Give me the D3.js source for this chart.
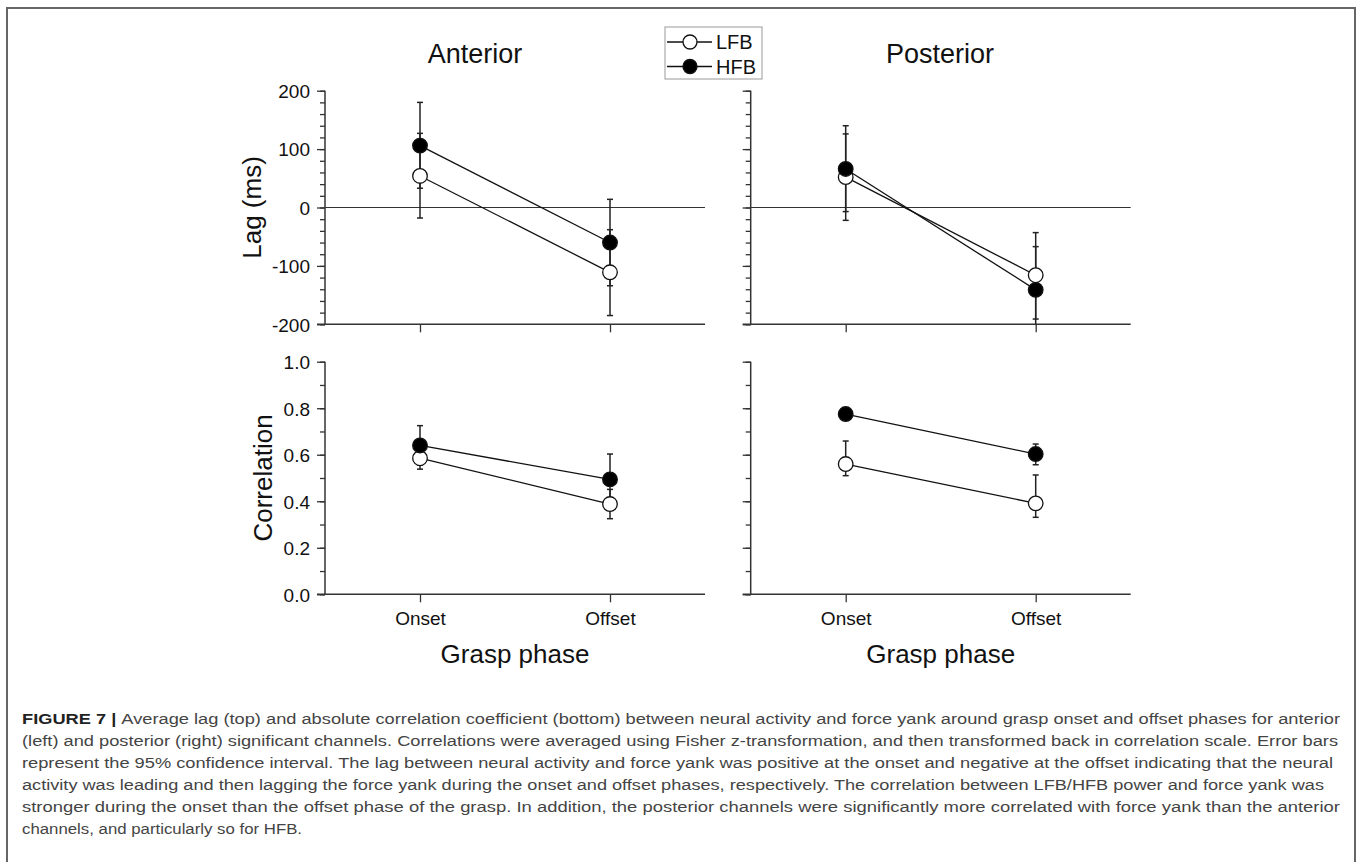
<!DOCTYPE html>
<html lang="en">
<head>
<meta charset="utf-8">
<title>Figure 7: lag and correlation around grasp phases</title>
<script src="https://cdn.jsdelivr.net/npm/d3@7"></script>
<style>
  body { margin: 0; background: #fff; }
  text { font-family: "Liberation Sans", Arial, sans-serif; fill: #111; }
  .caption { font-family: "Liberation Sans Narrow", "Liberation Sans", Arial, sans-serif; fill: #444; }
</style>
</head>
<body>
<script>
// ---------- data
var phases = ["Onset", "Offset"];
var bands = ["LFB", "HFB"];

// lag (ms), mean + 95% CI
var lagAntLFB = [54, -111],   lagAntLFBLo = [-18, -185],  lagAntLFBHi = [127, -38];
var lagAntHFB = [106, -60],   lagAntHFBLo = [33, -134],   lagAntHFBHi = [180, 14];
var lagPostLFB = [52, -116],  lagPostLFBLo = [-22, -191], lagPostLFBHi = [126, -43];
var lagPostHFB = [66, -141],  lagPostHFBLo = [-7, -215],  lagPostHFBHi = [140, -67];

// correlation, mean + 95% CI
var corAntLFB = [0.585, 0.388],  corAntLFBLo = [0.538, 0.325],  corAntLFBHi = [0.632, 0.451];
var corAntHFB = [0.640, 0.494],  corAntHFBLo = [0.555, 0.385],  corAntHFBHi = [0.725, 0.603];
var corPostLFB = [0.560, 0.391], corPostLFBLo = [0.510, 0.331], corPostLFBHi = [0.659, 0.513];
var corPostHFB = [0.775, 0.603], corPostHFBLo = [0.762, 0.557], corPostHFBHi = [0.788, 0.646];

var lagTicks = [-200, -100, 0, 100, 200];
var corTicks = [0, 0.2, 0.4, 0.6, 0.8, 1.0];

var captionLines = [
  "Average lag (top) and absolute correlation coefficient (bottom) between neural activity and force yank around grasp onset and offset phases for anterior",
  "(left) and posterior (right) significant channels. Correlations were averaged using Fisher z-transformation, and then transformed back in correlation scale. Error bars",
  "represent the 95% confidence interval. The lag between neural activity and force yank was positive at the onset and negative at the offset indicating that the neural",
  "activity was leading and then lagging the force yank during the onset and offset phases, respectively. The correlation between LFB/HFB power and force yank was",
  "stronger during the onset than the offset phase of the grasp. In addition, the posterior channels were significantly more correlated with force yank than the anterior",
  "channels, and particularly so for HFB."
];

// ---------- layout
var W = 1358, H = 862;
var pw = 380;            // panel width
var topY = 90.7, topH = 233.6;
var botY = 361.7, botH = 232.6;
var leftX = 325, rightX = 750.7;

var svg = d3.select("body").append("svg")
  .attr("width", W)
  .attr("height", H);

// outer frame
svg.append("path")
  .attr("d", "M7," + H + "V8H1355V" + H)
  .attr("fill", "none")
  .attr("stroke", "#666")
  .attr("stroke-width", 2);

function pack(m, lo, hi) {
  return phases.map(function(p, i) { return { phase: p, v: m[i], lo: lo[i], hi: hi[i] }; });
}

var panels = [
  { x: leftX,  y: topY, h: topH, domain: [-200, 200], major: lagTicks, minorStep: 20, zero: true,
    yLabels: true, xLabels: false, fmt: function(d) { return String(d); },
    series: [pack(lagAntLFB, lagAntLFBLo, lagAntLFBHi), pack(lagAntHFB, lagAntHFBLo, lagAntHFBHi)] },
  { x: rightX, y: topY, h: topH, domain: [-200, 200], major: lagTicks, minorStep: 20, zero: true,
    yLabels: false, xLabels: false, fmt: function(d) { return String(d); },
    series: [pack(lagPostLFB, lagPostLFBLo, lagPostLFBHi), pack(lagPostHFB, lagPostHFBLo, lagPostHFBHi)] },
  { x: leftX,  y: botY, h: botH, domain: [0, 1], major: corTicks, minorStep: 0.1, zero: false,
    yLabels: true, xLabels: true, fmt: function(d) { return d.toFixed(1); },
    series: [pack(corAntLFB, corAntLFBLo, corAntLFBHi), pack(corAntHFB, corAntHFBLo, corAntHFBHi)] },
  { x: rightX, y: botY, h: botH, domain: [0, 1], major: corTicks, minorStep: 0.1, zero: false,
    yLabels: false, xLabels: true, fmt: function(d) { return d.toFixed(1); },
    series: [pack(corPostLFB, corPostLFBLo, corPostLFBHi), pack(corPostHFB, corPostHFBLo, corPostHFBHi)] }
];

var axisColor = "#333";

panels.forEach(function(p) {
  var g = svg.append("g").attr("transform", "translate(" + p.x + "," + p.y + ")");

  var xScale = d3.scalePoint().domain(phases).range([0, pw]).padding(0.5);
  var yScale = d3.scaleLinear().domain(p.domain).range([p.h, 0]).clamp(true);

  // minor ticks
  var minors = d3.range(p.domain[0], p.domain[1] + p.minorStep / 2, p.minorStep)
    .map(function(d) { return +d.toFixed(3); });
  g.append("g")
    .call(d3.axisLeft(yScale).tickValues(minors).tickSize(5).tickSizeOuter(0).tickFormat(""))
    .call(function(a) { a.select(".domain").remove(); });

  // major ticks + labels
  var yAxis = g.append("g")
    .call(d3.axisLeft(yScale).tickValues(p.major).tickSize(8).tickSizeOuter(0).tickPadding(7)
      .tickFormat(p.yLabels ? p.fmt : ""))
    .call(function(a) { a.select(".domain").remove(); });
  yAxis.selectAll("text").style("font-size", "19px").attr("dy", "0.36em")
    .style("font-family", "'Liberation Sans', Arial, sans-serif").attr("fill", "#111");

  // x ticks
  var xAxis = g.append("g")
    .attr("transform", "translate(0," + p.h + ")")
    .call(d3.axisBottom(xScale).tickSize(8).tickSizeOuter(0).tickPadding(9)
      .tickFormat(p.xLabels ? function(d) { return d; } : ""))
    .call(function(a) { a.select(".domain").remove(); });
  xAxis.selectAll("text").style("font-size", "19px")
    .style("font-family", "'Liberation Sans', Arial, sans-serif").attr("fill", "#111");

  svg.selectAll(".tick line").attr("stroke", axisColor).attr("stroke-width", 1.3);

  // axis lines
  g.append("line").attr("x1", 0).attr("x2", 0).attr("y1", 0).attr("y2", p.h)
    .attr("stroke", axisColor).attr("stroke-width", 1.5);
  g.append("line").attr("x1", -8).attr("x2", pw).attr("y1", p.h).attr("y2", p.h)
    .attr("stroke", axisColor).attr("stroke-width", 1.5);

  if (p.zero) {
    g.append("line").attr("x1", 0).attr("x2", pw)
      .attr("y1", yScale(0)).attr("y2", yScale(0))
      .attr("stroke", axisColor).attr("stroke-width", 1.2);
  }

  var line = d3.line()
    .x(function(d) { return xScale(d.phase); })
    .y(function(d) { return yScale(d.v); });

  // connecting lines
  g.selectAll(".conn").data(p.series).enter().append("path")
    .attr("class", "conn")
    .attr("d", line)
    .attr("fill", "none")
    .attr("stroke", "#111")
    .attr("stroke-width", 1.3);

  // error bars
  p.series.forEach(function(s) {
    var eb = g.selectAll(null).data(s).enter().append("g");
    eb.append("line")
      .attr("x1", function(d) { return xScale(d.phase); })
      .attr("x2", function(d) { return xScale(d.phase); })
      .attr("y1", function(d) { return yScale(d.lo); })
      .attr("y2", function(d) { return yScale(d.hi); })
      .attr("stroke", "#222").attr("stroke-width", 1.5);
    ["lo", "hi"].forEach(function(k) {
      eb.filter(function(d) { return d[k] >= p.domain[0] && d[k] <= p.domain[1]; })
        .append("line")
        .attr("x1", function(d) { return xScale(d.phase) - 3; })
        .attr("x2", function(d) { return xScale(d.phase) + 3; })
        .attr("y1", function(d) { return yScale(d[k]); })
        .attr("y2", function(d) { return yScale(d[k]); })
        .attr("stroke", "#222").attr("stroke-width", 1.5);
    });
  });

  // markers: LFB open, HFB filled on top
  p.series.forEach(function(s, i) {
    g.selectAll(null).data(s).enter().append("circle")
      .attr("cx", function(d) { return xScale(d.phase); })
      .attr("cy", function(d) { return yScale(d.v); })
      .attr("r", 7.3)
      .attr("fill", i === 0 ? "#fff" : "#000")
      .attr("stroke", "#111")
      .attr("stroke-width", 1.3);
  });
});

// ---------- text labels
svg.append("text").attr("x", 475).attr("y", 63).attr("text-anchor", "middle")
  .style("font-size", "27px").text("Anterior");
svg.append("text").attr("x", 940).attr("y", 63).attr("text-anchor", "middle")
  .style("font-size", "27px").text("Posterior");

svg.append("text")
  .attr("transform", "translate(261," + (topY + topH / 2) + ") rotate(-90)")
  .attr("text-anchor", "middle").style("font-size", "26px").text("Lag (ms)");
svg.append("text")
  .attr("transform", "translate(272," + (botY + botH / 2) + ") rotate(-90)")
  .attr("text-anchor", "middle").style("font-size", "26px").text("Correlation");

[leftX, rightX].forEach(function(x0) {
  svg.append("text").attr("x", x0 + pw / 2).attr("y", 663).attr("text-anchor", "middle")
    .style("font-size", "26px").text("Grasp phase");
});

// ---------- legend
var leg = svg.append("g");
leg.append("rect").attr("x", 665).attr("y", 27).attr("width", 97).attr("height", 52)
  .attr("fill", "#fff").attr("stroke", "#999").attr("stroke-width", 1);
bands.forEach(function(b, i) {
  var ly = 42 + i * 24.5;
  leg.append("line").attr("x1", 667).attr("x2", 712).attr("y1", ly).attr("y2", ly)
    .attr("stroke", "#111").attr("stroke-width", 1.3);
  leg.append("circle").attr("cx", 690).attr("cy", ly).attr("r", 7)
    .attr("fill", i === 0 ? "#fff" : "#000").attr("stroke", "#111").attr("stroke-width", 1.3);
  leg.append("text").attr("x", 716).attr("y", ly).attr("dy", "0.36em")
    .style("font-size", "20px").text(b);
});

// ---------- caption
var capWidths = [1318, 1316, 1311, 1302, 1318, 280];
captionLines.forEach(function(t, i) {
  var txt = svg.append("text").attr("class", "caption")
    .attr("x", 22).attr("y", 724 + i * 22)
    .style("font-size", "15.5px");
  if (i === 0) {
    txt.append("tspan").style("font-weight", "bold").style("fill", "#222").text("FIGURE 7 | ");
  }
  txt.append("tspan").text(t);
  txt.attr("textLength", capWidths[i]).attr("lengthAdjust", "spacingAndGlyphs");
});
</script>
</body>
</html>
